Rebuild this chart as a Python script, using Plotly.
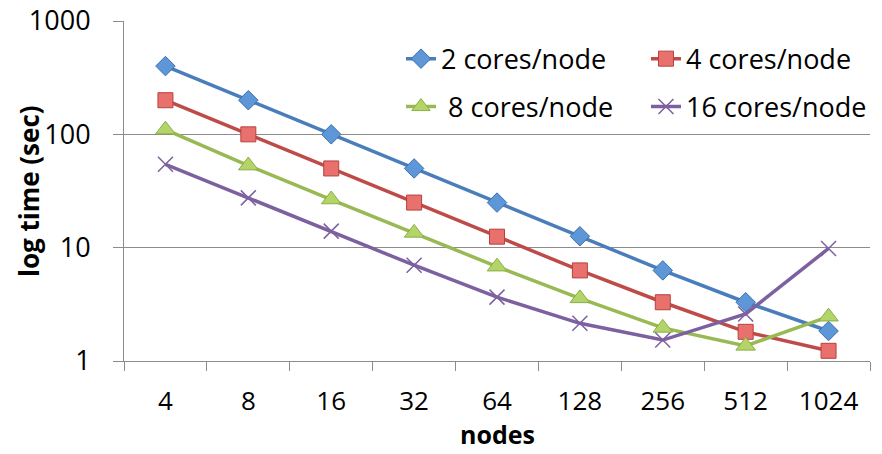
import plotly.graph_objects as go

# Run time (seconds) against node count, one series per cores-per-node setting
nodes = ["4", "8", "16", "32", "64", "128", "256", "512", "1024"]
time_2cores = [400, 200, 100, 50, 25, 12.6, 6.3, 3.3, 1.84]
time_4cores = [200, 100, 50, 25, 12.5, 6.3, 3.3, 1.81, 1.23]
time_8cores = [110, 53, 26.6, 13.5, 6.8, 3.57, 1.96, 1.36, 2.46]
time_16cores = [54.4, 27.5, 14, 7, 3.66, 2.15, 1.53, 2.6, 9.84]

y_tickvals = [1, 10, 100, 1000]
y_ticktext = ["1", "10", "100", "1000"]

FONT = "Open Sans, Lato, sans-serif"
GRID = "#8c8c8c"

# each series gets its own single-entry legend, laid out as a 2x2 block
series = [
    dict(name="2 cores/node", y=time_2cores, line="#4A7EBB", fill="#5E97D8",
         edge="#3D6FAD", symbol="diamond", size=15, legend="legend"),
    dict(name="4 cores/node", y=time_4cores, line="#BE4B48", fill="#E8716E",
         edge="#B8403D", symbol="square", size=15, legend="legend2"),
    dict(name=" 8 cores/node", y=time_8cores, line="#98B954", fill="#B2D468",
         edge="#8AAE44", symbol="triangle-up", size=17, legend="legend3"),
    dict(name="16 cores/node", y=time_16cores, line="#7D60A0", fill="#7D60A0",
         edge="#7D60A0", symbol="x-thin-open", size=15, legend="legend4"),
]

fig = go.Figure()
for s in series:
    marker = dict(symbol=s["symbol"], size=s["size"], color=s["fill"],
                  line=dict(color=s["edge"], width=1.5 if "x-thin" in s["symbol"] else 1))
    fig.add_trace(go.Scatter(
        x=nodes, y=s["y"], name=s["name"], mode="lines+markers",
        line=dict(color=s["line"], width=3.5), marker=marker,
        legend=s["legend"],
    ))


def legend_box(x, y):
    return dict(
        x=x, y=y, xanchor="left", yanchor="middle",
        font=dict(family=FONT, size=27, color="#000000"),
        bgcolor="rgba(0,0,0,0)", itemclick=False,
    )


col1, col2 = 0.3713, 0.6997
row1, row2 = 0.888, 0.747

fig.update_layout(
    width=882, height=454,
    margin=dict(l=124, r=12, t=21, b=93, autoexpand=False),
    paper_bgcolor="white", plot_bgcolor="white",
    font=dict(family=FONT, size=27, color="#000000"),
    showlegend=True,
    legend=legend_box(col1, row1),
    legend2=legend_box(col2, row1),
    legend3=legend_box(col1, row2),
    legend4=legend_box(col2, row2),
    xaxis=dict(
        type="category", range=[-0.5, 8.5],
        showline=True, linecolor=GRID, linewidth=1,
        ticks="outside", ticklen=9, tickcolor=GRID, tickwidth=1,
        tickson="boundaries", showgrid=False, zeroline=False,
        tickfont=dict(family=FONT, size=26), ticklabelstandoff=17,
    ),
    yaxis=dict(
        type="log", range=[0, 3],
        tickvals=y_tickvals, ticktext=y_ticktext,
        showline=True, linecolor=GRID, linewidth=1,
        ticks="outside", ticklen=10, tickcolor=GRID, tickwidth=1,
        showgrid=True, gridcolor=GRID, gridwidth=1, zeroline=False,
        tickfont=dict(family=FONT, size=27), ticklabelstandoff=17,
    ),
    annotations=[
        dict(text="<b>log time (sec)</b>", textangle=-90, showarrow=False,
             xref="paper", yref="paper", x=-0.1273, y=0.5,
             xanchor="center", yanchor="middle",
             font=dict(family=FONT, size=26)),
        dict(text="<b>nodes</b>", showarrow=False,
             xref="paper", yref="paper", x=0.5, y=-0.2676,
             xanchor="center", yanchor="bottom", borderpad=0,
             font=dict(family=FONT, size=25)),
    ],
)

fig.write_html("out.html")
